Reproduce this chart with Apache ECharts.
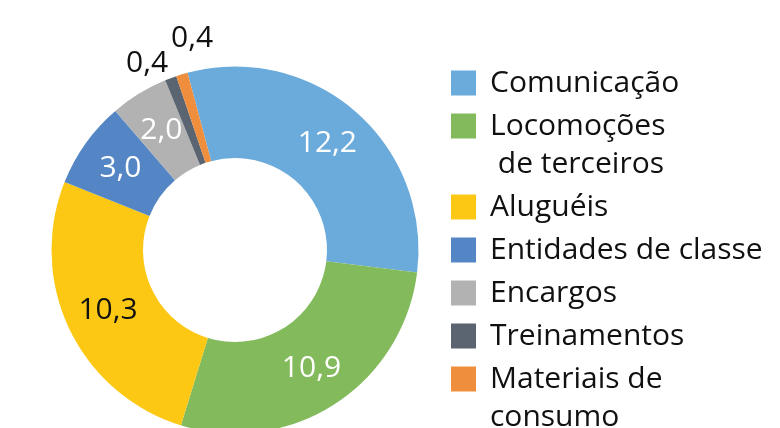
<!DOCTYPE html>
<html>
<head>
<meta charset="utf-8">
<script src="https://cdn.jsdelivr.net/npm/echarts@6/dist/echarts.min.js"></script>
<style>
  html, body { margin: 0; padding: 0; background: #ffffff; }
  #chart { width: 780px; height: 428px; }
</style>
</head>
<body>
<div id="chart"></div>
<script>
// rosca de despesas
const categories = [
  "Comunicação",
  "Locomoções de terceiros",
  "Aluguéis",
  "Entidades de classe",
  "Encargos",
  "Treinamentos",
  "Materiais de consumo",
];
const values = [12.2, 10.9, 10.3, 3.0, 2.0, 0.4, 0.4];
// texto da legenda quebrado em linhas
const legendLines = [
  ["Comunicação"],
  ["Locomoções", " de terceiros"],
  ["Aluguéis"],
  ["Entidades de classe"],
  ["Encargos"],
  ["Treinamentos"],
  ["Materiais de", "consumo"],
];

const colors = ["#6aabdb", "#83ba5c", "#fcc814", "#5486c6", "#b2b2b2", "#5a6571", "#ef8e3d"];
const font = "'Open Sans', 'Noto Sans', sans-serif";
const fontSize = 30;
const lineH = 38;

const myChart = echarts.init(document.getElementById("chart"));

const fmt = v => v.toFixed(1).replace(".", ",");

// uma legenda por item, para alinhar o quadrado com a primeira linha
const legends = [];
let center = 83;
categories.forEach((name, i) => {
  const lines = legendLines[i];
  const extra = (lines.length - 1) * lineH;
  // texto fica centrado no ícone: linhas vazias em cima deixam a 1a linha no meio
  const shown = Array(lines.length - 1).fill("").concat(lines);
  const boxHalf = (shown.length * lineH) / 2;
  legends.push({
    orient: "vertical",
    left: 451,
    top: center - Math.max(boxHalf, 12.5),
    padding: 0,
    itemWidth: 25,
    itemHeight: 25,
    icon: "rect",
    data: [name],
    formatter: () => shown.join("\n"),
    textStyle: {
      fontFamily: font,
      fontSize: fontSize,
      lineHeight: lineH,
      color: "#111111",
      padding: [0, 0, 0, 9],
    },
  });
  center += 43 + extra;
});

const data = categories.map((name, i) => {
  const item = { name: name, value: values[i] };
  if (i === 2) {
    item.label = { color: "#111111" };
  }
  return item;
});
// rótulos pequenos ficam fora
data[5].label = { position: "outside", color: "#111111", distanceToLabelLine: -3 };
data[5].labelLine = { show: false, length: 16, length2: 0 };
data[6].label = { position: "outside", color: "#111111", distanceToLabelLine: -42 };
data[6].labelLine = { show: false, length: 37, length2: 0 };

const option = {
  backgroundColor: "#ffffff",
  animation: false,
  color: colors,
  legend: legends,
  series: [
    {
      type: "pie",
      center: [235, 250],
      radius: [92, 183.5],
      startAngle: 105,
      clockwise: true,
      avoidLabelOverlap: false,
      emphasis: { disabled: true },
      label: {
        show: true,
        position: "inside",
        color: "#ffffff",
        fontFamily: font,
        fontSize: fontSize,
        formatter: p => fmt(p.value),
      },
      labelLine: { show: false },
      itemStyle: { borderWidth: 0 },
      data: data,
    },
  ],
};

myChart.setOption(option);
</script>
</body>
</html>
